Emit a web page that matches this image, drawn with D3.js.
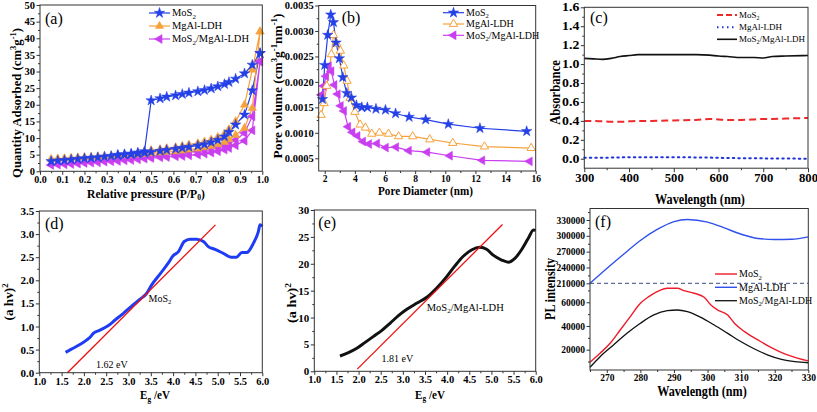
<!DOCTYPE html>
<html><head><meta charset="utf-8">
<script src="https://cdn.jsdelivr.net/npm/d3@7"></script>
<style>body{margin:0;background:#fff}svg{display:block}text{font-family:"Liberation Serif","Times New Roman",serif}</style>
</head><body><svg id="c" width="817" height="412"></svg>
<script>
// ---------- (a) N2 isotherms ----------
const aP_ads = [0.05,0.08,0.11,0.14,0.17,0.20,0.23,0.26,0.29,0.32,0.35,0.38,0.41,0.44,0.47,0.50,0.54,0.57,0.61,0.64,0.67,0.71,0.74,0.77,0.80,0.83,0.85,0.88,0.92,0.955,0.99];
const aP_des = [0.99,0.955,0.92,0.88,0.85,0.83,0.80,0.77,0.74,0.71,0.67,0.64,0.61,0.57,0.54,0.50,0.47,0.44,0.41,0.38,0.35];
const aMoS2_ads = [3.0,3.2,3.3,3.5,3.7,3.9,4.0,4.2,4.4,4.6,4.8,5.0,5.1,5.3,5.5,5.8,6.1,6.4,6.7,7.0,7.3,7.7,8.1,8.7,9.4,10.4,11.8,14.0,17.0,24.3,35.5];
const aMoS2_des = [35.5,32.0,29.4,27.8,26.8,26.2,25.5,24.9,24.4,24.0,23.6,23.2,22.8,22.4,21.9,21.3,6.0,5.6,5.3,5.1,4.9];
const aMgAl_ads = [3.7,3.8,3.9,4.0,4.1,4.2,4.3,4.4,4.5,4.6,4.7,4.8,4.9,5.0,5.2,5.4,5.6,5.8,6.0,6.2,6.5,6.8,7.2,7.6,8.1,8.8,9.6,10.9,13.0,19.0,42.0];
const aMgAl_des = [42.0,30.5,20.0,15.0,12.6,11.3,10.3,9.5,8.9,8.4,8.0,7.6,7.2,6.9,6.6,6.3,5.9,5.4];
const aMix_ads = [1.9,2.0,2.1,2.2,2.3,2.5,2.6,2.7,2.9,3.0,3.1,3.3,3.4,3.6,3.8,4.0,4.2,4.3,4.5,4.6,4.8,5.0,5.3,5.6,6.0,6.5,7.0,7.8,9.2,12.3,33.0];
const aMix_des = [33.0,16.5,11.5,9.4,8.2,7.6,7.1,6.7,6.3,6.0,5.7,5.4,5.1,4.9,4.7,4.5];
const aXTicks = [0,0.1,0.2,0.3,0.4,0.5,0.6,0.7,0.8,0.9,1.0];
const aYTicks = [0,5,10,15,20,25,30,35,40,45,50];

// ---------- (b) pore size distribution ----------
const bD_MoS2 = [1.85,2.0,2.2,2.4,2.58,2.75,2.97,3.2,3.46,3.77,4.1,4.46,4.83,5.4,6.03,6.7,7.6,8.7,10.2,12.3,15.4];
const bV_MoS2 = [0.00166,0.00233,0.00292,0.00332,0.00317,0.00277,0.00246,0.00209,0.00178,0.00169,0.00154,0.00150,0.00150,0.00147,0.00145,0.00138,0.00131,0.00126,0.00117,0.00109,0.00103];
const bD_MgAl = [1.76,1.96,2.13,2.44,2.58,2.8,3.04,3.26,3.48,3.68,4.0,4.35,4.7,5.12,5.63,6.23,6.9,7.84,8.97,10.5,12.6,15.7];
const bV_MgAl = [0.00135,0.00158,0.00192,0.00254,0.00292,0.00275,0.00261,0.00232,0.00202,0.00168,0.00141,0.00116,0.00110,0.00098,0.00100,0.00098,0.00093,0.00093,0.00087,0.00080,0.00073,0.00070];
const bD_Mix = [1.8,1.93,2.09,2.27,2.44,2.64,2.86,3.06,3.28,3.55,3.84,4.17,4.54,4.94,5.47,6.05,6.73,7.58,8.8,10.3,12.45,15.6];
const bV_Mix = [0.00175,0.00192,0.00211,0.00231,0.00221,0.00194,0.00176,0.00153,0.00143,0.00112,0.00101,0.00094,0.00083,0.00078,0.00079,0.00071,0.00072,0.00065,0.00062,0.00055,0.00046,0.00044];
const bXTicks = [2,4,6,8,10,12,14,16];
const bYTicks = [0.0005,0.0010,0.0015,0.0020,0.0025,0.0030,0.0035];

// ---------- (c) UV-vis absorbance ----------
const cWave = [300,320,340,360,380,400,420,450,500,550,580,600,620,650,680,700,720,750,800];
const cMoS2 = [0.40,0.40,0.395,0.39,0.39,0.395,0.40,0.40,0.405,0.41,0.42,0.415,0.41,0.41,0.415,0.42,0.42,0.425,0.43];
const cMgAl = [0.01,0.01,0.01,0.012,0.014,0.015,0.015,0.015,0.015,0.014,0.012,0.01,0.008,0.006,0.005,0.004,0.003,0.002,0.0];
const cMix = [1.06,1.055,1.05,1.06,1.08,1.09,1.10,1.10,1.10,1.10,1.095,1.085,1.08,1.07,1.07,1.065,1.08,1.085,1.09];
const cXTicks = [300,400,500,600,700,800];
const cYTicks = [0,0.2,0.4,0.6,0.8,1.0,1.2,1.4,1.6];

// ---------- (d) Tauc MoS2 ----------
const dE = [1.59,1.72,1.91,2.08,2.15,2.2,2.36,2.55,2.70,2.88,3.07,3.26,3.41,3.52,3.71,3.89,4.0,4.12,4.25,4.38,4.53,4.68,4.79,4.94,5.13,5.30,5.42,5.54,5.65,5.80,5.91,5.95,6.0];
const dA = [0.44,0.51,0.61,0.72,0.78,0.84,0.92,1.02,1.14,1.28,1.44,1.59,1.72,1.90,2.14,2.37,2.53,2.62,2.84,2.89,2.89,2.84,2.73,2.67,2.58,2.50,2.50,2.60,2.60,2.80,3.05,3.20,3.17];
const dFitE = [1.63,4.95];
const dFitA = [0.0,3.2];
const dXTicks = [1,1.5,2,2.5,3,3.5,4,4.5,5,5.5,6];
const dYTicks = [0,0.5,1,1.5,2,2.5,3,3.5];

// ---------- (e) Tauc MoS2/MgAl-LDH ----------
const eE = [1.58,1.77,1.96,2.14,2.33,2.52,2.71,2.90,3.09,3.31,3.54,3.76,3.99,4.18,4.37,4.55,4.74,4.89,5.04,5.23,5.38,5.53,5.68,5.83,5.95,6.0];
const eA = [2.85,3.47,4.28,5.33,6.45,7.56,8.93,10.35,11.53,12.65,13.76,15.44,17.6,19.65,21.45,22.57,23.06,22.7,21.6,20.7,20.3,21.0,22.6,24.7,26.3,26.2];
const eFitE = [1.97,5.25];
const eFitA = [0.4,27.3];
const eYTicks = [0,5,10,15,20,25,30];

// ---------- (f) PL ----------
const fW_MgAl = [265,270,275,280,285,290,294,300,305,310,315,320,325,330];
const fMgAl = [210000,238000,265000,291000,312000,327000,331000,326000,315000,303000,295000,293000,293500,298000];
const fW_MoS2 = [265,268,271,274,277,280,282.5,285,288,291,293,296,299,301,303,306,308,311,315,319,323,327,330];
const fMoS2 = [9400,17000,25400,36600,47900,59200,64700,68900,71800,71800,69800,67600,64200,57700,53500,49300,42300,35200,28200,21700,16400,12700,10500];
const fW_Mix = [265,268,272,276,280,284,288,291,294,298,302,306,310,314,318,322,326,330];
const fMix = [5150,14100,24000,33800,42300,49300,52900,53500,52100,47300,40800,33800,26700,20600,15500,11900,9900,9000];
const fXTicks = [270,280,290,300,310,320,330];
const fYTicksUp = [210000,240000,270000,300000,330000];
const fYTicksLo = [20000,40000,60000];
const fBreak = 210000;

const names = {m:[['MoS','n'],['2','sub']], l:[['MgAl-LDH','n']], x:[['MoS','n'],['2','sub'],['/MgAl-LDH','n']]};

const svg = d3.select('#c');
const AX = '#333';

function rich(t, parts, fs){
  let off = 0;
  parts.forEach(([s,k])=>{
    const target = k==='sub'? fs*0.22 : k==='sup'? -fs*0.4 : 0;
    const sp = t.append('tspan').text(s).attr('dy', target-off);
    if(k!=='n') sp.attr('font-size', fs*0.66);
    off = target;
  });
}
function label(x,y,parts,o={}){
  const fs=o.fs||12;
  const g = svg.append('g').attr('transform',`translate(${x},${y}) rotate(${o.rot||0})`);
  const t = g.append('text').attr('text-anchor',o.anchor||'start').attr('font-size',fs)
    .attr('font-weight',o.bold?'bold':'normal').attr('fill',o.fill||'#000');
  rich(t, typeof parts==='string'?[[parts,'n']]:parts, fs);
  if(o.w){ const bw=t.node().getBBox().width; t.attr('transform',`scale(${o.w/bw},1)`); }
  return t;
}
function range(a,b,s){const r=[];for(let v=a;v<=b+1e-9;v+=s)r.push(+v.toFixed(8));return r;}

function styleAxis(sel, fs, sx){
  sel.select('.domain').remove();
  sel.selectAll('line').attr('stroke',AX).attr('stroke-width',1);
  sel.selectAll('text').attr('font-size',fs).attr('font-weight','bold').attr('fill','#000')
    .style('font-family','"Liberation Serif","Times New Roman",serif')
    .each(function(){ if(sx!==1){ const x=+d3.select(this).attr('x')||0; d3.select(this).attr('transform',`translate(${x},0) scale(${sx},1) translate(${-x},0)`);} });
}
function xAxis(x, y0, ticks, minor, fmt, fs, sx, size=3.5, pad=1.5){
  svg.append('g').attr('transform',`translate(0,${y0})`).call(d3.axisBottom(x).tickValues(minor).tickSize(2).tickFormat('')).call(s=>styleAxis(s,fs,1));
  svg.append('g').attr('transform',`translate(0,${y0})`).call(d3.axisBottom(x).tickValues(ticks).tickSize(size).tickPadding(pad).tickFormat(d3.format(fmt))).call(s=>styleAxis(s,fs,sx));
}
function yAxis(y, x0, ticks, minor, fmt, fs, sx){
  svg.append('g').attr('transform',`translate(${x0},0)`).call(d3.axisLeft(y).tickValues(minor).tickSize(2).tickFormat('')).call(s=>styleAxis(s,fs,1));
  svg.append('g').attr('transform',`translate(${x0},0)`).call(d3.axisLeft(y).tickValues(ticks).tickSize(3.5).tickPadding(1.5).tickFormat(d3.format(fmt))).call(s=>styleAxis(s,fs,sx));
}
function frame(x0,x1,y0,y1){
  svg.append('rect').attr('x',x0).attr('y',y1).attr('width',x1-x0).attr('height',y0-y1)
    .attr('fill','none').attr('stroke',AX).attr('stroke-width',1);
}
function path(xs, ys, x, y, col, w, dash, curve){
  const line = d3.line().x(d=>x(d[0])).y(d=>y(d[1])).curve(curve||d3.curveLinear);
  return svg.append('path').datum(xs.map((v,i)=>[v,ys[i]])).attr('d',line).attr('fill','none')
    .attr('stroke',col).attr('stroke-width',w).attr('stroke-dasharray',dash||null).attr('stroke-linecap',dash&&dash.startsWith('1.5')?'round':'butt');
}
const SYM = {
  star: {type:d3.symbolStar, size:34, rot:0},
  tri: {type:d3.symbolTriangle, size:30, rot:0},
  left: {type:d3.symbolTriangle, size:34, rot:-90}
};
function marks(xs, ys, x, y, sym, col, open){
  const s = SYM[sym];
  svg.append('g').selectAll('path').data(xs.map((v,i)=>[v,ys[i]])).join('path')
    .attr('d', d3.symbol(s.type, s.size)())
    .attr('transform', d=>`translate(${x(d[0])},${y(d[1])}) rotate(${s.rot})`)
    .attr('fill', open?'#fff':col).attr('stroke',col).attr('stroke-width', open?1:0.5);
}
function legendRow(x0,x1,yy,col,w,dash,sym,open,parts,fs){
  svg.append('line').attr('x1',x0).attr('x2',x1).attr('y1',yy).attr('y2',yy).attr('stroke',col).attr('stroke-width',w).attr('stroke-dasharray',dash||null);
  if(sym){ const s=SYM[sym]; svg.append('path').attr('d',d3.symbol(s.type,s.size)()).attr('transform',`translate(${(x0+x1)/2},${yy}) rotate(${s.rot})`).attr('fill',open?'#fff':col).attr('stroke',col).attr('stroke-width',open?1:0.5); }
  label(x1+2, yy+fs*0.33, parts, {fs});
}

const BLUE='#2440e6', ORANGE='#f6a23c', MAG='#c93ff0';

// ================= (a) =================
{
  const x = d3.scaleLinear().domain([0,1]).range([40,262.3]);
  const y = d3.scaleLinear().domain([0,50]).range([171.3,5]);
  const cfg = [[aMoS2_ads,aMoS2_des,BLUE,'star'],[aMgAl_ads,aMgAl_des,ORANGE,'tri'],[aMix_ads,aMix_des,MAG,'left']];
  cfg.forEach(([ad,de,col,sym])=>{
    const xs = aP_ads.concat(aP_des.slice(0,de.length)), ys = ad.concat(de);
    path(xs, ys, x, y, col, 1.2);
  });
  cfg.slice().reverse().forEach(([ad,de,col,sym])=>{
    marks(aP_ads, ad, x, y, sym, col);
    marks(aP_des.slice(0,de.length), de, x, y, sym, col);
  });
  frame(40,262.3,171.3,5);
  xAxis(x,171.3,aXTicks,range(0.05,0.95,0.1),'.1f',10,1);
  yAxis(y,40,aYTicks,range(2.5,47.5,5),'d',10,1.05);
  label(45,23.5,'(a)',{fs:16});
  label(146,197.5,[['Relative pressure (P/P','n'],['0','sub'],[')','n']],{fs:12.5,bold:true,anchor:'middle',w:118});
  label(20.5,103,[['Quantity Adsorbed (cm','n'],['3','sup'],['g','n'],['-1','sup'],[')','n']],{fs:12.5,bold:true,anchor:'middle',rot:-90,w:150});
  legendRow(149,170,13,BLUE,1.2,null,'star',false,names.m,10.5);
  legendRow(149,170,26,ORANGE,1.2,null,'tri',false,names.l,10.5);
  legendRow(149,170,39,MAG,1.2,null,'left',false,names.x,10.5);
}

// ================= (b) =================
{
  const x = d3.scaleLinear().domain([1.6,16]).range([318.7,535.7]);
  const y = d3.scaleLinear().domain([0.00025,0.0035]).range([171,5.5]);
  path(bD_MgAl,bV_MgAl,x,y,ORANGE,1.2);
  path(bD_Mix,bV_Mix,x,y,MAG,1.2);
  path(bD_MoS2,bV_MoS2,x,y,BLUE,1.2);
  marks(bD_Mix,bV_Mix,x,y,'left',MAG);
  marks(bD_MgAl,bV_MgAl,x,y,'tri',ORANGE,true);
  marks(bD_MoS2,bV_MoS2,x,y,'star',BLUE);
  frame(318.7,535.7,171,5.5);
  xAxis(x,171,bXTicks,range(3,15,2),'d',9.5,1,3,1);
  yAxis(y,318.7,bYTicks,range(0.00075,0.00325,0.0005),'.4f',10,1.05);
  label(341.7,23.3,'(b)',{fs:16});
  label(425.5,195,'Pore Diameter (nm)',{fs:12,bold:true,anchor:'middle',w:95});
  label(281.5,86,[['Pore volume (cm','n'],['3','sup'],['g','n'],['-1','sup'],['nm','n'],['-1','sup'],[')','n']],{fs:12,bold:true,anchor:'middle',rot:-90,w:145});
  legendRow(443,464,12.7,BLUE,1.2,null,'star',false,names.m,10);
  legendRow(443,464,24,ORANGE,1.2,null,'tri',true,names.l,10);
  legendRow(443,464,35.3,MAG,1.2,null,'left',false,names.x,10);
}

// ================= (c) =================
{
  const x = d3.scaleLinear().domain([300,800]).range([584.3,808]);
  const y = d3.scaleLinear().domain([-0.1,1.6]).range([168.2,7.3]);
  path(cWave,cMix,x,y,'#111',1.6,null,d3.curveMonotoneX);
  path(cWave,cMoS2,x,y,'#ee2a2a',2,'7,4',d3.curveMonotoneX);
  path(cWave,cMgAl,x,y,'#2233dd',2,'1.5,4',d3.curveMonotoneX);
  frame(584.3,808,168.2,7.3);
  xAxis(x,168.2,cXTicks,range(350,750,100),'d',11.5,1.1,4,2);
  yAxis(y,584.3,cYTicks,range(0.1,1.5,0.2),'.1f',11.5,1.2);
  label(590,22.7,'(c)',{fs:16});
  label(700,204,'Wavelength (nm)',{fs:15.5,bold:true,anchor:'middle',w:90});
  label(560,92.5,'Absorbance',{fs:15,bold:true,anchor:'middle',rot:-90,w:65});
  legendRow(717,737,15,'#ee2a2a',2,'6,3',null,false,names.m,9);
  legendRow(717,737,27.3,'#2233dd',2,'1.5,3.5',null,false,names.l,9);
  legendRow(717,737,39.3,'#111',1.6,null,null,false,names.x,9);
}

// ================= (d) =================
{
  const x = d3.scaleLinear().domain([1,6]).range([39.3,262.3]);
  const y = d3.scaleLinear().domain([0,3.5]).range([372.7,211]);
  path(dE,dA,x,y,'#1f3cf5',3,null,d3.curveMonotoneX);
  path(dFitE,dFitA,x,y,'#ee1111',1.3);
  frame(39.3,262.3,372.7,211);
  xAxis(x,372.7,dXTicks,range(1.25,5.75,0.5),'.1f',10.5,1,3.5,1);
  yAxis(y,39.3,dYTicks,range(0.25,3.25,0.5),'.1f',11,1);
  label(45,229,'(d)',{fs:16});
  label(155,399,[['E','n'],['g','sub'],[' /eV','n']],{fs:13.5,bold:true,anchor:'middle',w:30});
  label(13,302,[['(a  hv)','n'],['2','sup']],{fs:13,bold:true,anchor:'middle',rot:-90,w:37});
  label(x(2.27),y(0.11),'1.62 eV',{fs:10});
  label(x(3.45),y(1.54),names.m,{fs:10});
}

// ================= (e) =================
{
  const x = d3.scaleLinear().domain([1,6]).range([314.3,535.7]);
  const y = d3.scaleLinear().domain([0,30]).range([371.3,210]);
  path(eE,eA,x,y,'#111',3,null,d3.curveMonotoneX);
  path(eFitE,eFitA,x,y,'#ee1111',1.3);
  frame(314.3,535.7,371.3,210);
  xAxis(x,371.3,dXTicks,range(1.25,5.75,0.5),'.1f',10.5,1,3.5,1);
  yAxis(y,314.3,eYTicks,range(2.5,27.5,5),'d',11,1);
  label(318.3,228.3,'(e)',{fs:16});
  label(430,398.5,[['E','n'],['g','sub'],[' /eV','n']],{fs:13.5,bold:true,anchor:'middle',w:30});
  label(296,303,[['(a  hv)','n'],['2','sup']],{fs:12.5,bold:true,anchor:'middle',rot:-90,w:40});
  label(x(2.52),y(1.67),'1.81 eV',{fs:10});
  label(x(3.54),y(11.2),names.x,{fs:10.5});
}

// ================= (f) =================
{
  const x = d3.scaleLinear().domain([265,330]).range([590,808.3]);
  const yUp = d3.scaleLinear().domain([fBreak,351750]).range([283.3,208.5]);
  const yLo = d3.scaleLinear().domain([2870,76000]).range([370,283.3]);
  path(fW_MgAl,fMgAl,x,yUp,'#3050ee',1.4,null,d3.curveMonotoneX);
  path(fW_MoS2,fMoS2,x,yLo,'#ee1a2a',1.4,null,d3.curveMonotoneX);
  path(fW_Mix,fMix,x,yLo,'#111',1.3,null,d3.curveMonotoneX);
  svg.append('line').attr('x1',x(265)).attr('x2',x(330)).attr('y1',yUp(fBreak)).attr('y2',yUp(fBreak))
    .attr('stroke','#3a4a80').attr('stroke-width',1).attr('stroke-dasharray','4,3');
  frame(590,808.3,370,208.5);
  xAxis(x,370,fXTicks,range(265,325,10),'d',9.5,1,3,1);
  yAxis(yUp,590,fYTicksUp,range(225000,345000,30000),'d',9.5,1);
  yAxis(yLo,590,fYTicksLo,[10000,30000,50000,70000],'d',9.5,1);
  label(595,226.7,'(f)',{fs:16});
  label(702,396,'Wavelength (nm)',{fs:14,bold:true,anchor:'middle',w:90});
  label(555,289,'PL intensity',{fs:14,bold:true,anchor:'middle',rot:-90,w:62});
  legendRow(715,737,274,'#ee1a2a',1.4,null,null,false,names.m,10);
  legendRow(715,737,287.3,'#3050ee',1.4,null,null,false,names.l,10);
  legendRow(715,737,300.7,'#111',1.3,null,null,false,names.x,10);
}
</script></body></html>
